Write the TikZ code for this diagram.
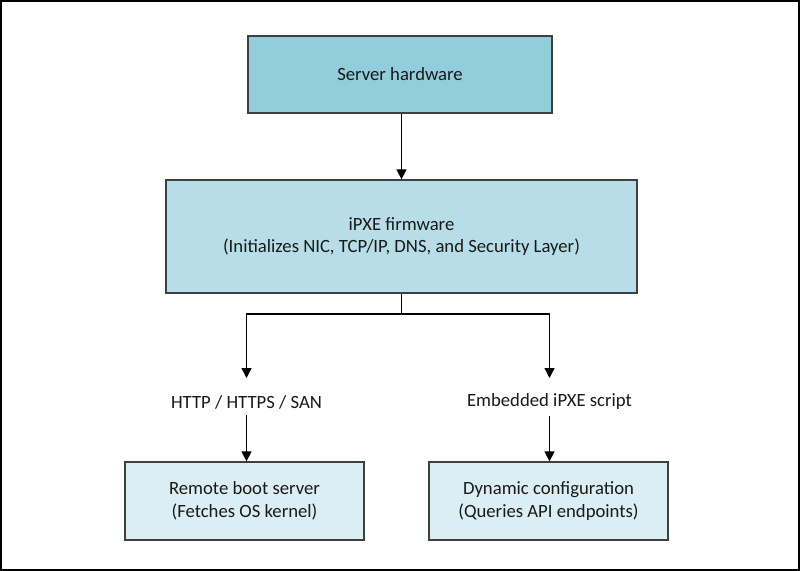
\documentclass[tikz,border=0pt]{standalone}
\usepackage{fontspec}
\setmainfont{Carlito}
\usetikzlibrary{arrows.meta}

\definecolor{hwfill}{HTML}{92CDDC}
\definecolor{fwfill}{HTML}{B7DEE8}
\definecolor{leaffill}{HTML}{DAEEF3}
\definecolor{edgegray}{HTML}{404040}

\tikzset{
  box/.style={draw=edgegray,line width=1.3bp,rectangle,align=center,
    text=black!90,font=\fontsize{18.7bp}{22.8bp}\selectfont},
  lbl/.style={align=center,text=black!90,inner sep=6bp,
    font=\fontsize{18.7bp}{22.8bp}\selectfont},
  link/.style={line width=1.3bp,-{Triangle[length=10bp,width=10bp]}}
}

\begin{document}
\begin{tikzpicture}[x=1bp,y=1bp]
    \useasboundingbox (0,0) rectangle (800,-571);
    \draw[line width=2bp] (1,-1) rectangle (799,-570);
    % boxes
    \node[box,fill=hwfill,minimum width=304bp,minimum height=77bp]
      (hw) at (400,-74.5) {Server hardware};
    \node[box,fill=fwfill,minimum width=471bp,minimum height=113bp]
      (fw) at (401.5,-236.5) {iPXE firmware\\(Initializes NIC, TCP/IP, DNS, and Security Layer)};
    \node[lbl] (proto) at (246.5,-402) {HTTP / HTTPS / SAN};
    \node[lbl] (script) at (549.5,-402) {Embedded iPXE script};
    \node[box,fill=leaffill,minimum width=239bp,minimum height=78bp]
      (rbs) at (244.5,-501) {Remote boot server\\(Fetches OS kernel)};
    \node[box,fill=leaffill,minimum width=239bp,minimum height=78bp]
      (dyn) at (548.5,-501) {Dynamic configuration\\(Queries API endpoints)};
    % connectors
    \coordinate (split) at (401.5,-314);
    \coordinate (endL) at (246.5,-378);
    \coordinate (endR) at (549.5,-378);
    \draw[link] (hw.south -| fw.north) -- (fw.north);
    \draw[line width=1.3bp] (fw.south) -- (split);
    \draw[link] (split) -| (endL);
    \draw[link] (split) -| (endR);
    \draw[link] (proto.south) -- (proto.south |- rbs.north);
    \draw[link] (script.south) -- (script.south |- dyn.north);
\end{tikzpicture}
\end{document}
